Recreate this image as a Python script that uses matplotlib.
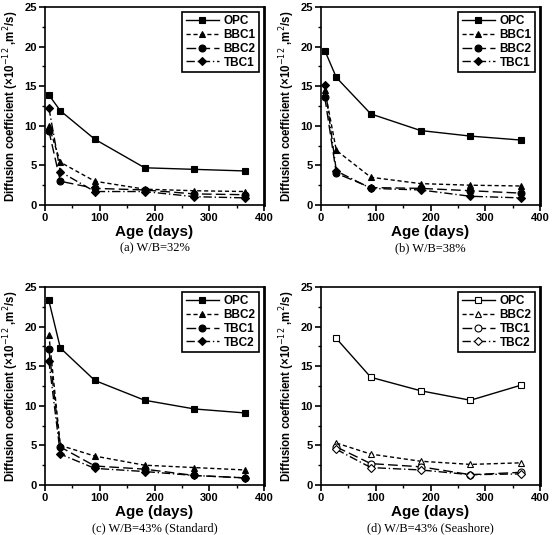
import matplotlib.pyplot as plt
from matplotlib.ticker import MultipleLocator

# ages (days)
ages = [7, 28, 91, 182, 273, 365]
ages_sea = [28, 91, 182, 273, 365]

# (a) W/B=32%
a_opc = [13.9, 11.9, 8.3, 4.7, 4.5, 4.3]
a_bbc1 = [10.0, 5.4, 3.0, 2.0, 1.8, 1.7]
a_bbc2 = [9.4, 3.0, 2.1, 1.9, 1.4, 1.3]
a_tbc1 = [12.3, 4.2, 1.7, 1.7, 1.05, 0.9]

# (b) W/B=38%
b_opc = [19.5, 16.1, 11.5, 9.4, 8.7, 8.2]
b_bbc1 = [14.5, 6.9, 3.5, 2.7, 2.5, 2.4]
b_bbc2 = [13.6, 4.0, 2.2, 2.1, 1.8, 1.5]
b_tbc1 = [15.1, 4.3, 2.1, 1.9, 1.1, 0.9]

# (c) W/B=43% (Standard)
c_opc = [23.3, 17.3, 13.2, 10.7, 9.6, 9.1]
c_bbc2 = [19.0, 5.0, 3.65, 2.5, 2.2, 1.9]
c_tbc1 = [17.2, 4.8, 2.4, 2.0, 1.2, 0.9]
c_tbc2 = [15.7, 3.9, 2.1, 1.7, 1.2, 0.9]

# (d) W/B=43% (Seashore)
d_opc = [18.5, 13.6, 11.9, 10.7, 12.6]
d_bbc2 = [5.3, 3.9, 3.0, 2.6, 2.8]
d_tbc1 = [4.8, 2.7, 2.3, 1.3, 1.6]
d_tbc2 = [4.5, 2.2, 1.9, 1.3, 1.4]

sans = 'Liberation Sans'
serif = 'Liberation Serif'

styles = [('s', '-'), ('^', (0, (3, 2))), ('o', (0, (7, 3))), ('D', (0, (6, 2, 1, 2)))]


def panel(ax, x, series, names, caption, hollow=False):
    for (m, ls), y, name in zip(styles, series, names):
        ms = 5 if m != 'D' else 4
        ax.plot(x, y, color='black', linestyle=ls, linewidth=1, marker=m, markersize=ms,
                markerfacecolor='white' if hollow else 'black', markeredgecolor='black',
                markeredgewidth=0.8, label=name)
    ax.set_xlim(0, 400)
    ax.set_ylim(0, 25)
    ax.xaxis.set_major_locator(MultipleLocator(100))
    ax.xaxis.set_minor_locator(MultipleLocator(50))
    ax.yaxis.set_major_locator(MultipleLocator(5))
    ax.yaxis.set_minor_locator(MultipleLocator(2.5))
    ax.tick_params(which='major', direction='out', length=4, width=1.2, labelsize=8, pad=2)
    ax.tick_params(which='minor', direction='out', length=2.5, width=1)
    for lab in ax.get_xticklabels() + ax.get_yticklabels():
        lab.set_fontfamily(sans)
        lab.set_fontweight('bold')
    for sp in ax.spines.values():
        sp.set_linewidth(1.2)
    ax.spines['right'].set_linewidth(2)
    ax.set_xlabel('Age (days)', fontsize=11, fontweight='bold', family=sans, labelpad=1)
    ax.set_ylabel('Diffusion coefficient (\u00d710$^{-12}$ ,m$^{2}$/s)', fontsize=8.3,
                  fontweight='bold', family=sans, labelpad=2)
    leg = ax.legend(loc='upper right', fancybox=False, edgecolor='black', framealpha=1,
                    prop={'family': sans, 'weight': 'bold', 'size': 8.5},
                    handlelength=2.8, borderpad=0.3, labelspacing=0.15, handletextpad=0.4,
                    borderaxespad=0.4)
    leg.get_frame().set_linewidth(1.2)
    ax.text(0.5, -0.22, caption, transform=ax.transAxes, ha='center', va='center',
            fontsize=9, family=serif)


fig = plt.figure(figsize=(5.52, 5.35), dpi=100)
W = 219 / 552
H = 198 / 535
ax_a = fig.add_axes([45 / 552, 1 - 205 / 535, W, H])
ax_b = fig.add_axes([321 / 552, 1 - 205 / 535, W, H])
ax_c = fig.add_axes([45 / 552, 1 - 485 / 535, W, H])
ax_d = fig.add_axes([321 / 552, 1 - 485 / 535, W, H])

panel(ax_a, ages, [a_opc, a_bbc1, a_bbc2, a_tbc1], ['OPC', 'BBC1', 'BBC2', 'TBC1'], '(a) W/B=32%')
panel(ax_b, ages, [b_opc, b_bbc1, b_bbc2, b_tbc1], ['OPC', 'BBC1', 'BBC2', 'TBC1'], '(b) W/B=38%')
panel(ax_c, ages, [c_opc, c_bbc2, c_tbc1, c_tbc2], ['OPC', 'BBC2', 'TBC1', 'TBC2'],
      '(c) W/B=43% (Standard)')
panel(ax_d, ages_sea, [d_opc, d_bbc2, d_tbc1, d_tbc2], ['OPC', 'BBC2', 'TBC1', 'TBC2'],
      '(d) W/B=43% (Seashore)', hollow=True)

plt.savefig('out.png', dpi=100)
